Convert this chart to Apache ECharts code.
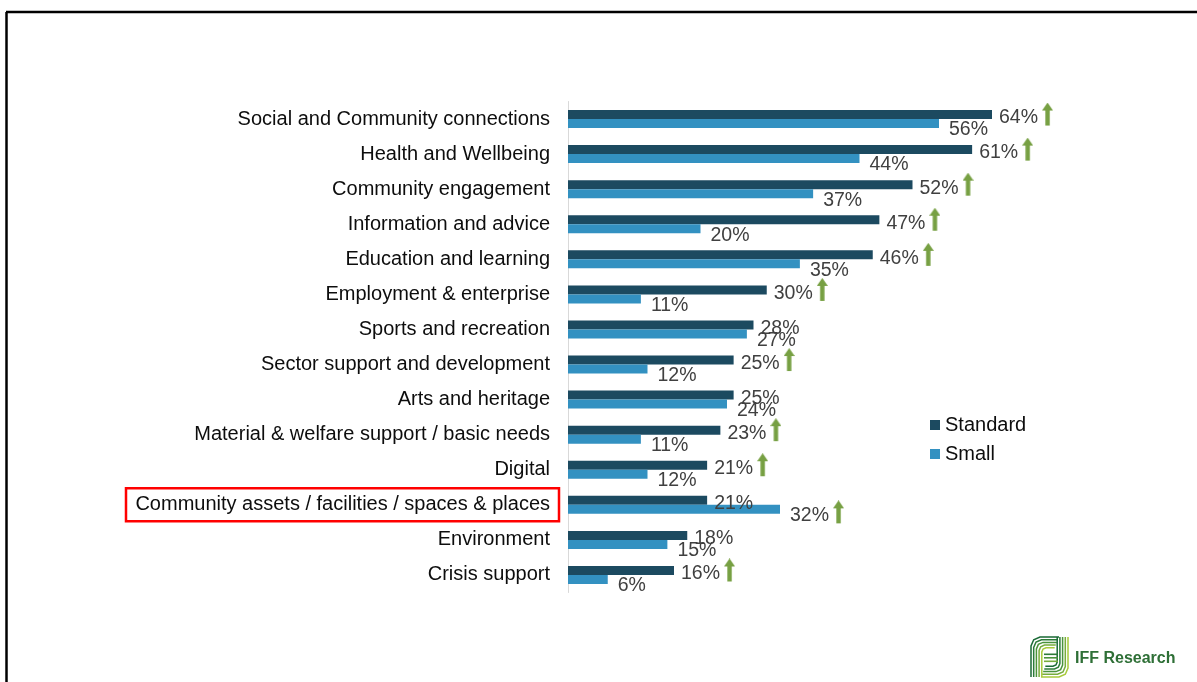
<!DOCTYPE html>
<html>
<head>
<meta charset="utf-8">
<script src="https://cdn.jsdelivr.net/npm/echarts@6/dist/echarts.min.js"></script>
<style>
  html, body { margin: 0; padding: 0; background: #fff; }
  #chart { width: 1197px; height: 682px; }
</style>
</head>
<body>
<div id="chart"></div>
<script>
// Areas of activity, top to bottom
const categories = [
  'Social and Community connections',
  'Health and Wellbeing',
  'Community engagement',
  'Information and advice',
  'Education and learning',
  'Employment & enterprise',
  'Sports and recreation',
  'Sector support and development',
  'Arts and heritage',
  'Material & welfare support / basic needs',
  'Digital',
  'Community assets / facilities / spaces & places',
  'Environment',
  'Crisis support'
];
// Share of grants (%) by grant type
const standardValues = [64, 61, 52, 47, 46, 30, 28, 25, 25, 23, 21, 21, 18, 16];
const smallValues    = [56, 44, 37, 20, 35, 11, 27, 12, 24, 11, 12, 32, 15, 6];
// Significantly higher than the other grant type
const standardHigher = [1, 1, 1, 1, 1, 1, 0, 1, 0, 1, 1, 0, 0, 1];
const smallHigher    = [0, 0, 0, 0, 0, 0, 0, 0, 0, 0, 0, 1, 0, 0];
const highlighted = 'Community assets / facilities / spaces & places';

const FONT = 'Liberation Sans, Arial, sans-serif';

// Green up-arrow glyph used beside significant values
// (drawn in the top of a taller canvas so it sits a little above the text centre)
function makeArrow() {
  const c = document.createElement('canvas');
  c.width = 11; c.height = 31;
  const g = c.getContext('2d');
  g.fillStyle = '#77a043';
  g.beginPath();
  g.moveTo(5.5, 0);
  g.lineTo(11, 8);
  g.lineTo(7.7, 8);
  g.lineTo(7.7, 23);
  g.lineTo(3.3, 23);
  g.lineTo(3.3, 8);
  g.lineTo(0, 8);
  g.closePath();
  g.fill();
  return c;
}
const arrowImg = makeArrow();

const labelRich = {
  v: { fontFamily: FONT, fontSize: 19.5, color: '#404040' },
  gap: { width: 4 },
  up: { width: 11, height: 31, backgroundColor: { image: arrowImg } }
};

function labelFor(flags) {
  return function (p) {
    const s = '{v|' + p.value + '%}';
    return flags[p.dataIndex] ? s + '{gap|}{up|}' : s;
  };
}

// Category axis runs top to bottom
const yCats = categories.slice().reverse();
const rev = a => a.slice().reverse();
const stdRev = rev(standardValues), smlRev = rev(smallValues);
const stdFlags = rev(standardHigher), smlFlags = rev(smallHigher);

const chart = echarts.init(document.getElementById('chart'), null, { renderer: 'canvas' });

chart.setOption({
  animation: false,
  backgroundColor: '#ffffff',
  grid: { left: 568, right: 165.25, top: 101.5, bottom: 89.5, containLabel: false },
  xAxis: {
    type: 'value', min: 0, max: 70,
    show: false
  },
  yAxis: {
    type: 'category',
    data: yCats,
    axisLine: { show: true, lineStyle: { color: '#d9d9d9', width: 1 } },
    axisTick: { show: false },
    axisLabel: { fontFamily: FONT, fontSize: 20, color: '#0d0d0d', margin: 18 }
  },
  legend: {
    orient: 'vertical',
    left: 925, top: 410,
    itemWidth: 10, itemHeight: 10, itemGap: 9,
    icon: 'rect',
    textStyle: { fontFamily: FONT, fontSize: 20, color: '#0d0d0d' },
    data: ['Standard', 'Small']
  },
  series: [
    {
      name: 'Standard', type: 'bar', data: stdRev,
      barWidth: 9, barGap: '0%',
      itemStyle: { color: '#1c4a60' },
      label: { show: true, position: 'right', distance: 7, offset: [0, 3.5],
               formatter: labelFor(stdFlags), rich: labelRich }
    },
    {
      name: 'Small', type: 'bar', data: smlRev,
      barWidth: 9, barGap: '0%',
      itemStyle: { color: '#3391c1' },
      label: { show: true, position: 'right', distance: 10, offset: [0, 6.5],
               formatter: labelFor(smlFlags), rich: labelRich }
    }
  ]
});

// Frame, highlight box and logo
const hy = chart.convertToPixel({ yAxisIndex: 0 }, highlighted);

function logoPaths() {
  const cols = ['#1a6a35', '#2c7b38', '#4a933b', '#77ad3d', '#a8ca3b'];
  const els = [];
  for (let i = 0; i < 5; i++) {
    const d = i * 2.7;
    const r = 9 - i * 1.2;
    // left stroke: up from the bottom, round the corner, across the top
    els.push({
      type: 'polyline',
      shape: { points: [[1031 + d, 677], [1031 + d, 637 + d + r], [1031 + d + r * 0.3, 637 + d + r * 0.3], [1031 + d + r, 637 + d], [1059 - d * 0.4, 637 + d]] },
      style: { stroke: cols[i], lineWidth: 1.5, fill: null }
    });
    // right stroke: down from the top, round the corner, across the bottom
    els.push({
      type: 'polyline',
      shape: { points: [[1068 - d, 637], [1068 - d, 677 - d - r], [1068 - d - r * 0.3, 677 - d - r * 0.3], [1068 - d - r, 677 - d], [1041 + d * 0.4, 677 - d]] },
      style: { stroke: cols[4 - i], lineWidth: 1.5, fill: null }
    });
  }
  // middle cross bars
  els.push({ type: 'rect', shape: { x: 1044, y: 653.5, width: 14, height: 1.6 }, style: { fill: '#2c7b38' } });
  els.push({ type: 'rect', shape: { x: 1044, y: 657, width: 14, height: 1.6 }, style: { fill: '#4a933b' } });
  els.push({ type: 'rect', shape: { x: 1044, y: 660.5, width: 14, height: 1.6 }, style: { fill: '#77ad3d' } });
  return els;
}

chart.setOption({
  graphic: [
    { type: 'line', shape: { x1: 6, y1: 12, x2: 1197, y2: 12 }, style: { stroke: '#000', lineWidth: 2.5 } },
    { type: 'line', shape: { x1: 6.5, y1: 12, x2: 6.5, y2: 682 }, style: { stroke: '#000', lineWidth: 2.5 } },
    { type: 'rect', shape: { x: 126, y: hy - 16.5, width: 433, height: 33 },
      style: { fill: null, stroke: '#ff0000', lineWidth: 2.5 } },
    { type: 'text', left: 1075, top: 651,
      style: { text: 'IFF Research', font: 'bold 16px ' + FONT, fill: '#2e6f36' } }
  ].concat(logoPaths())
});
</script>
</body>
</html>
